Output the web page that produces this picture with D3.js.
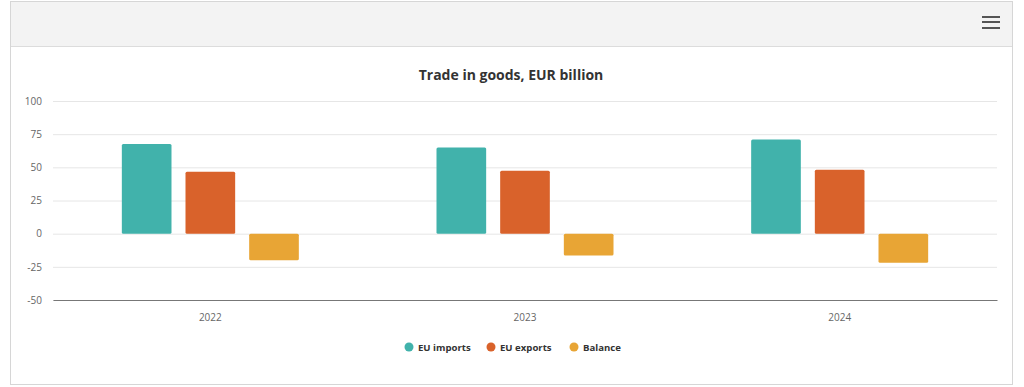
<!DOCTYPE html>
<html><head><meta charset="utf-8">
<script src="https://cdn.jsdelivr.net/npm/d3@7"></script>
<style>
html,body{margin:0;padding:0;background:#fff;}
svg{display:block;font-family:"Open Sans","Noto Sans",sans-serif;}
</style></head>
<body><svg id="c" width="1024" height="387"></svg>
<script>
const categories = ["2022","2023","2024"];
const seriesNames = ["EU imports","EU exports","Balance"];
const imports = [67.5, 65.0, 71.0];
const exports_ = [46.7, 47.5, 48.2];
const balance = [-20.0, -16.5, -22.0];
const yTicks = [-50,-25,0,25,50,75,100];
const colors = ["#41b2ab","#d9622b","#e8a535"];

const svg = d3.select("#c");
// frame
svg.append("rect").attr("x",10.5).attr("y",1.5).attr("width",1002).attr("height",383)
  .attr("fill","#fff").attr("stroke","#d6d6d6");
svg.append("rect").attr("x",11).attr("y",2).attr("width",1001).attr("height",44).attr("fill","#f3f3f3");
svg.append("line").attr("x1",11).attr("x2",1012).attr("y1",46.5).attr("y2",46.5).attr("stroke","#dcdcdc");
[17,22,28].forEach(y=>svg.append("rect").attr("x",982).attr("y",y-1).attr("width",18).attr("height",2).attr("fill","#555"));

const x0 = d3.scaleBand().domain(categories).range([53,997]);
const y = d3.scaleLinear().domain([-50,100]).range([300,101]);
const x1 = d3.scaleBand().domain(seriesNames).range([-88.5,88.5]).paddingInner(0.22);

svg.append("text").attr("x",511).attr("y",80).attr("text-anchor","middle")
  .attr("font-size",14).attr("font-weight","bold").attr("fill","#333").text("Trade in goods, EUR billion");

const gy = svg.append("g").attr("transform","translate(53,0)")
  .call(d3.axisLeft(y).tickValues(yTicks).tickFormat(d=>String(d)).tickSize(-944).tickPadding(11));
gy.select(".domain").remove();
gy.selectAll(".tick line").attr("stroke","#e6e6e6");
gy.selectAll(".tick text").attr("font-size",10).attr("fill","#666").attr("font-family","Open Sans");

const gx = svg.append("g").attr("transform","translate(0,300)")
  .call(d3.axisBottom(x0).tickSize(0).tickPadding(14));
gx.select(".domain").attr("stroke","#777");
gx.selectAll(".tick text").attr("font-size",10).attr("fill","#666").attr("font-family","Open Sans");

const data = [imports, exports_, balance];
categories.forEach((c,i)=>{
  const cx = x0(c)+x0.bandwidth()/2;
  seriesNames.forEach((s,j)=>{
    const v = data[j][i];
    svg.append("rect").attr("x",cx+x1(s)).attr("width",x1.bandwidth())
      .attr("y",y(Math.max(0,v))).attr("height",Math.abs(y(v)-y(0)))
      .attr("rx",1.5).attr("fill",colors[j]);
  });
});

// legend
const legX = [409,491,574];
seriesNames.forEach((s,j)=>{
  svg.append("circle").attr("cx",legX[j]).attr("cy",347).attr("r",4.5).attr("fill",colors[j]);
  svg.append("text").attr("x",legX[j]+9).attr("y",351).attr("font-size",9.6).attr("font-weight","bold")
    .attr("fill","#333").text(s);
});
</script></body></html>
